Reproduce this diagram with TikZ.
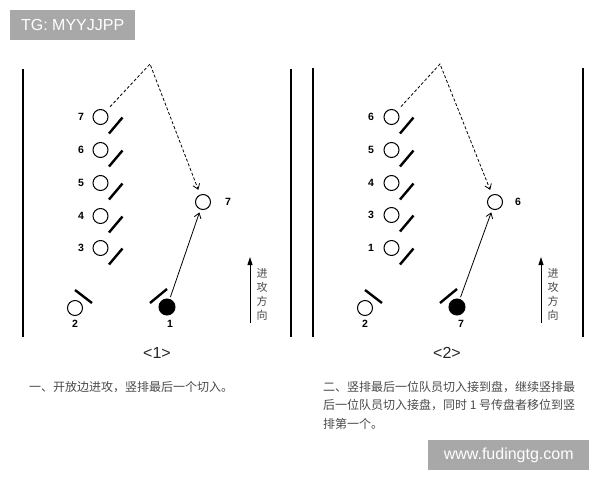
\documentclass[tikz,border=0pt]{standalone}
\usepackage{fontspec}
\setmainfont{Liberation Sans}
\newfontfamily\cjk{Noto Sans CJK SC}
\usetikzlibrary{arrows.meta}
\definecolor{wmgray}{HTML}{A8A8A8}
\definecolor{txtgray}{HTML}{4A4A4A}
\tikzset{
  player/.style={circle, draw, line width=1pt, minimum size=15pt, inner sep=0pt},
  disc/.style={player, fill=black, minimum size=16pt},
  guard/.style={line width=2.4pt},
  side/.style={line width=1.5pt},
  num/.style={font=\fontsize{10.5}{12}\selectfont\bfseries, inner sep=0pt},
  cutpath/.style={dashed, dash pattern=on 3pt off 2pt, line width=0.8pt, -{Straight Barb[length=5pt,width=7pt]}},
  passpath/.style={line width=0.8pt, -{Straight Barb[length=5pt,width=7pt]}},
  dirarrow/.style={line width=1pt, -{Triangle[length=8pt,width=5pt]}},
  dirtext/.style={font=\cjk\fontsize{11}{14}\selectfont, text=txtgray, align=center, inner sep=0pt},
  caption/.style={font=\cjk\fontsize{12}{18.5}\selectfont, text=txtgray, align=left, inner sep=0pt, anchor=north west},
  title/.style={font=\fontsize{16}{18}\selectfont, text=black!85, inner sep=0pt},
  wm/.style={fill=wmgray, text=white, font=\fontsize{16}{18}\selectfont, inner sep=0pt, minimum height=30pt}
}
\begin{document}
\begin{tikzpicture}[x=1pt, y=-1pt]
\useasboundingbox (0,0) rectangle (600,480);
\fill[white] (0,0) rectangle (600,480);

% watermark boxes
\node[wm, minimum width=125pt, anchor=north west] (tg) at (10,10) {TG: MYYJJPP};
\node[wm, minimum width=161pt, anchor=north west] (www) at (428,440) {www.fudingtg.com};

% ===== Panel 1 =====
\draw[side] (23,69) coordinate (l1a) -- (23,337) coordinate (l1b);
\draw[side] (291,69) coordinate (r1a) -- (291,337) coordinate (r1b);

\foreach \n/\y in {7/117, 6/150, 5/183, 4/216, 3/248} {
  \node[player] (a\n) at (100.5,\y) {};
  \node[num] (la\n) at (81,\y) {\n};
  \draw[guard] ([shift={(8.5,16.5)}]a\n.center) -- ([shift={(22,0.5)}]a\n.center);
}
\node[player] (a2) at (75,308) {};
\node[num] (la2) at (75,324) {2};
\draw[guard] ([shift={(0,-18)}]a2.center) -- ([shift={(17,-5)}]a2.center);
\node[disc] (a1) at (167,307) {};
\node[num] (la1) at (170,324) {1};
\draw[guard] ([shift={(-17,-4)}]a1.center) -- ([shift={(0,-18)}]a1.center);
\node[player] (t1) at (203,202) {};
\node[num] (lt1) at (228,202) {7};

\coordinate (apex1) at (150,64);
\draw[cutpath, shorten <=6pt, shorten >=5pt] (a7) -- (apex1) -- (t1);
\draw[passpath, shorten <=2pt, shorten >=3pt] (a1) -- (t1);

\coordinate (d1a) at (250,323);
\coordinate (d1b) at (250,257);
\draw[dirarrow] (d1a) -- (d1b);
\node[dirtext] (dt1) at (262,294) {进\\攻\\方\\向};

\node[title] (c1) at (157,353) {<1>};
\node[caption] (cap1) at (29,381) {一、开放边进攻，竖排最后一个切入。};

% ===== Panel 2 =====
\draw[side] (313,68) coordinate (l2a) -- (313,337) coordinate (l2b);
\draw[side] (583,68) coordinate (r2a) -- (583,337) coordinate (r2b);

\foreach \n/\y in {6/117, 5/150, 4/183, 3/215, 1/248} {
  \node[player] (b\n) at (391.5,\y) {};
  \node[num] (lb\n) at (371,\y) {\n};
  \draw[guard] ([shift={(8.5,16.5)}]b\n.center) -- ([shift={(22,0.5)}]b\n.center);
}
\node[player] (b2) at (365,308) {};
\node[num] (lb2) at (365,324) {2};
\draw[guard] ([shift={(0,-18)}]b2.center) -- ([shift={(17,-5)}]b2.center);
\node[disc] (b7) at (457,307) {};
\node[num] (lb7) at (461,324) {7};
\draw[guard] ([shift={(-17,-4)}]b7.center) -- ([shift={(0,-18)}]b7.center);
\node[player] (t2) at (495,202) {};
\node[num] (lt2) at (518,202) {6};

\coordinate (apex2) at (440,64);
\draw[cutpath, shorten <=6pt, shorten >=5pt] (b6) -- (apex2) -- (t2);
\draw[passpath, shorten <=2pt, shorten >=3pt] (b7) -- (t2);

\coordinate (d2a) at (541,323);
\coordinate (d2b) at (541,257);
\draw[dirarrow] (d2a) -- (d2b);
\node[dirtext] (dt2) at (553,294) {进\\攻\\方\\向};

\node[title] (c2) at (447,353) {<2>};
\node[caption] (cap2) at (323,381) {二、竖排最后一位队员切入接到盘，继续竖排最\\后一位队员切入接盘，同时 1 号传盘者移位到竖\\排第一个。};
\end{tikzpicture}
\end{document}
